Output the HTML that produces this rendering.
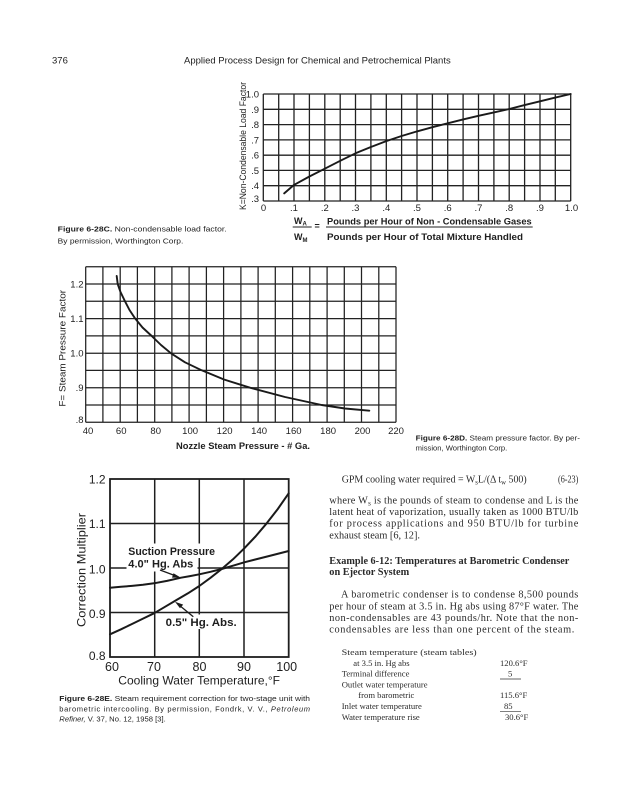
<!DOCTYPE html>
<html><head><meta charset="utf-8"><style>
html,body{margin:0;padding:0;background:#fff;}
svg{display:block;}
.s{font-family:"Liberation Sans",sans-serif;fill:#1e1e1e;}
.r{font-family:"Liberation Serif",serif;fill:#2a2a2a;}
</style></head><body>
<svg width="621" height="800" viewBox="0 0 621 800" xmlns="http://www.w3.org/2000/svg">
<rect width="621" height="800" fill="#fff"/>
<!-- header -->
<text class="s" x="52" y="63.5" font-size="9.5">376</text>
<text class="s" x="184" y="63.5" font-size="9.5" textLength="266.7" lengthAdjust="spacingAndGlyphs">Applied Process Design for Chemical and Petrochemical Plants</text>

<!-- ===== Figure 6-28C ===== -->
<g stroke="#222" stroke-width="1.3" fill="none">
<path d="M263.3 94V201M278.7 94V201M294 94V201M309.4 94V201M324.8 94V201M340.2 94V201M355.5 94V201M370.9 94V201M386.3 94V201M401.6 94V201M417 94V201M432.4 94V201M447.7 94V201M463.1 94V201M478.5 94V201M493.9 94V201M509.2 94V201M524.6 94V201M540 94V201M555.3 94V201M570.7 94V201"/>
<path d="M263.3 94H570.7M263.3 109.3H570.7M263.3 124.6H570.7M263.3 139.9H570.7M263.3 155.2H570.7M263.3 170.4H570.7M263.3 185.7H570.7M263.3 201H570.7"/>
</g>
<polyline fill="none" stroke="#1a1a1a" stroke-width="1.9" stroke-linejoin="round" stroke-linecap="round" points="284.2,193.4 294,184.9 309.4,176.5 324.8,168.7 340.2,160.8 355.5,153.3 370.9,147 386.3,141.1 401.6,136 417,131.4 432.4,127.2 447.7,123.3 463.1,119.4 478.5,115.8 493.9,112.4 509.2,109 524.6,105.1 540,101.3 555.3,97.6 570.7,94"/>
<g class="s" font-size="9.5" text-anchor="end">
<text x="259" y="97.5">1.0</text><text x="259" y="112.8">.9</text><text x="259" y="128.1">.8</text><text x="259" y="143.4">.7</text><text x="259" y="158.7">.6</text><text x="259" y="173.9">.5</text><text x="259" y="189.2">.4</text><text x="259" y="202">.3</text>
</g>
<g class="s" font-size="9.5" text-anchor="middle">
<text x="263.5" y="211">0</text><text x="294" y="211">.1</text><text x="324.8" y="211">.2</text><text x="355.5" y="211">.3</text><text x="386.3" y="211">.4</text><text x="417" y="211">.5</text><text x="447.7" y="211">.6</text><text x="478.5" y="211">.7</text><text x="509.2" y="211">.8</text><text x="540" y="211">.9</text><text x="571.5" y="211">1.0</text>
</g>
<text class="s" font-size="9" transform="translate(245.8,146) rotate(-90)" text-anchor="middle" textLength="128" lengthAdjust="spacingAndGlyphs">K=Non-Condensable Load Factor</text>
<!-- fraction -->
<text class="s" font-size="9" font-weight="bold" x="294" y="224">W</text>
<text class="s" font-size="6" font-weight="bold" x="302.5" y="225.5">A</text>
<line x1="292.7" y1="227" x2="311.7" y2="227" stroke="#222" stroke-width="1"/>
<text class="s" font-size="9" font-weight="bold" x="294" y="240">W</text>
<text class="s" font-size="6" font-weight="bold" x="302.5" y="242">M</text>
<text class="s" font-size="9" font-weight="bold" x="314.5" y="229">=</text>
<line x1="326" y1="227" x2="532.7" y2="227" stroke="#222" stroke-width="1"/>
<text class="s" font-size="8.8" font-weight="bold" x="327" y="224.5" textLength="204.7" lengthAdjust="spacingAndGlyphs">Pounds per Hour of Non - Condensable Gases</text>
<text class="s" font-size="8.8" font-weight="bold" x="327" y="240" textLength="196" lengthAdjust="spacingAndGlyphs">Pounds per Hour of Total Mixture Handled</text>
<!-- caption C -->
<text class="s" font-size="7.5" x="57.7" y="231.7" textLength="169" lengthAdjust="spacingAndGlyphs"><tspan font-weight="bold">Figure 6-28C.</tspan> Non-condensable load factor.</text>
<text class="s" font-size="7.5" x="57.7" y="243.3" textLength="125.6" lengthAdjust="spacingAndGlyphs">By permission, Worthington Corp.</text>

<!-- ===== Figure 6-28D ===== -->
<g stroke="#222" stroke-width="1.25" fill="none">
<path d="M85.7 266.7V422.3M102.9 266.7V422.3M120.2 266.7V422.3M137.4 266.7V422.3M154.7 266.7V422.3M171.9 266.7V422.3M189.1 266.7V422.3M206.4 266.7V422.3M223.6 266.7V422.3M240.9 266.7V422.3M258.1 266.7V422.3M275.3 266.7V422.3M292.6 266.7V422.3M309.8 266.7V422.3M327.1 266.7V422.3M344.3 266.7V422.3M361.5 266.7V422.3M378.8 266.7V422.3M396 266.7V422.3"/>
<path d="M85.7 266.7H396M85.7 284H396M85.7 301.3H396M85.7 318.6H396M85.7 335.9H396M85.7 353.2H396M85.7 370.4H396M85.7 387.7H396M85.7 405H396M85.7 422.3H396"/>
</g>
<polyline fill="none" stroke="#1a1a1a" stroke-width="1.9" stroke-linejoin="round" stroke-linecap="round" points="116.7,276 117.7,284 120.5,292 125,301.3 129.5,310 135,318.3 142.5,327.5 151.7,336 161,345 171,353.3 185,362.3 201.7,370.3 224,379.5 250,387.7 285,397 321.7,405 345,408.5 369.3,410.7"/>
<g class="s" font-size="9.5" text-anchor="end">
<text x="83.5" y="287.5">1.2</text><text x="83.5" y="321.8">1.1</text><text x="83.5" y="356.7">1.0</text><text x="83.5" y="391.2">.9</text><text x="83.5" y="423">.8</text>
</g>
<g class="s" font-size="9.5" text-anchor="middle">
<text x="88" y="434.2">40</text><text x="121.2" y="434.2">60</text><text x="155.7" y="434.2">80</text><text x="190.1" y="434.2">100</text><text x="224.6" y="434.2">120</text><text x="259.1" y="434.2">140</text><text x="293.6" y="434.2">160</text><text x="328.1" y="434.2">180</text><text x="362.5" y="434.2">200</text><text x="396" y="434.2">220</text>
</g>
<text class="s" font-size="9" font-weight="bold" x="176" y="448.8" textLength="134" lengthAdjust="spacingAndGlyphs">Nozzle Steam Pressure - # Ga.</text>
<text class="s" font-size="9.5" transform="translate(65.5,348.3) rotate(-90)" text-anchor="middle" textLength="116.7" lengthAdjust="spacingAndGlyphs">F= Steam Pressure Factor</text>
<!-- caption D -->
<text class="s" font-size="7.5" x="415.7" y="440.4" textLength="164.3" lengthAdjust="spacingAndGlyphs"><tspan font-weight="bold">Figure 6-28D.</tspan> Steam pressure factor. By per-</text>
<text class="s" font-size="7.5" x="415.7" y="450.4" textLength="91.6" lengthAdjust="spacingAndGlyphs">mission, Worthington Corp.</text>

<!-- ===== Figure 6-28E ===== -->
<g stroke="#1e1e1e" stroke-width="1.5" fill="none">
<path d="M154.7 479V657M199.3 479V657M244 479V657"/>
<path d="M110 523.5H288.7M110 568H288.7M110 612.5H288.7"/>
<rect x="110" y="479" width="178.7" height="178" stroke-width="1.8"/>
</g>
<!-- label masks -->
<rect x="126" y="543.5" width="91" height="14.5" fill="#fff"/>
<rect x="126.5" y="558" width="71" height="13.5" fill="#fff"/>
<rect x="163" y="614.5" width="77" height="14.5" fill="#fff"/>
<g fill="none" stroke="#1a1a1a" stroke-width="2" stroke-linejoin="round" stroke-linecap="round">
<polyline points="110,634.3 121,629.3 132,624 143,618.6 154,613.3 165,606.8 176.5,600 188,593.3 199.3,586 210.5,577.8 221.7,569 233,559.3 244.3,548.3 255.5,536.5 266.7,523.3 277.8,509 288.7,493.3"/>
<polyline points="110,587.7 121,586.8 132,585.9 143,584.8 154,583.3 167,580.9 181,577.7 190,576.1 199.3,574.3 210.5,571.8 221.7,569 233,565.7 244.3,562.3 266.7,556.6 288.7,551"/>
</g>
<!-- arrows -->
<g stroke="#1a1a1a" stroke-width="1.3" fill="#1a1a1a">
<line x1="160" y1="570" x2="176" y2="576"/>
<polygon points="181,577.8 173.5,573.2 172,577.6" stroke="none"/>
<line x1="193.3" y1="616.7" x2="179" y2="605"/>
<polygon points="175,601.7 183.2,604.6 180,608.2" stroke="none"/>
</g>
<g class="s" font-size="11" font-weight="bold">
<text x="128.3" y="555" textLength="86.7" lengthAdjust="spacingAndGlyphs">Suction Pressure</text>
<text x="128.3" y="567.5" textLength="65" lengthAdjust="spacingAndGlyphs">4.0" Hg. Abs</text>
<text x="165.7" y="626" textLength="71" lengthAdjust="spacingAndGlyphs">0.5" Hg. Abs.</text>
</g>
<g class="s" font-size="12" text-anchor="end">
<text x="105.5" y="483.3">1.2</text><text x="105.5" y="528">1.1</text><text x="105.5" y="573.5">1.0</text><text x="105.5" y="617.8">0.9</text><text x="105.5" y="660">0.8</text>
</g>
<g class="s" font-size="12.5" text-anchor="middle">
<text x="112" y="671">60</text><text x="154" y="671">70</text><text x="199.5" y="671">80</text><text x="244" y="671">90</text><text x="286.7" y="671">100</text>
</g>
<text class="s" font-size="12" x="118.3" y="684.5" textLength="161.7" lengthAdjust="spacingAndGlyphs">Cooling Water Temperature,°F</text>
<text class="s" font-size="12" transform="translate(85.5,570) rotate(-90)" text-anchor="middle" textLength="114" lengthAdjust="spacingAndGlyphs">Correction Multiplier</text>
<!-- caption E -->
<text class="s" font-size="7.5" x="59.3" y="701" textLength="250.7" lengthAdjust="spacingAndGlyphs"><tspan font-weight="bold">Figure 6-28E.</tspan> Steam requirement correction for two-stage unit with</text>
<text class="s" font-size="7.5" x="59.3" y="711.4" textLength="250.7" lengthAdjust="spacing">barometric intercooling. By permission, Fondrk, V. V., <tspan font-style="italic">Petroleum</tspan></text>
<text class="s" font-size="7.5" x="59.3" y="721.4" textLength="106.4" lengthAdjust="spacingAndGlyphs"><tspan font-style="italic">Refiner,</tspan> V. 37, No. 12, 1958 [3].</text>

<!-- ===== right column text ===== -->
<g class="r" font-size="10.3">
<text x="341.7" y="482.3" textLength="185" lengthAdjust="spacingAndGlyphs">GPM cooling water required = W<tspan font-size="7" dy="2">s</tspan><tspan dy="-2">L/(Δ t</tspan><tspan font-size="7" dy="2">w</tspan><tspan dy="-2"> 500)</tspan></text>
<text x="558" y="482.3" textLength="20.3" lengthAdjust="spacingAndGlyphs">(6-23)</text>
<text x="329.3" y="503.3" textLength="249" lengthAdjust="spacing">where W<tspan font-size="7" dy="2">s</tspan><tspan dy="-2"> is the pounds of steam to condense and L is the</tspan></text>
<text x="329.3" y="515" textLength="249" lengthAdjust="spacing">latent heat of vaporization, usually taken as 1000 BTU/lb</text>
<text x="329.3" y="526.7" textLength="249" lengthAdjust="spacing">for process applications and 950 BTU/lb for turbine</text>
<text x="329.3" y="538.3">exhaust steam [6, 12].</text>
<text x="329.3" y="564" font-weight="bold" textLength="240" lengthAdjust="spacingAndGlyphs">Example 6-12: Temperatures at Barometric Condenser</text>
<text x="329.3" y="575" font-weight="bold">on Ejector System</text>
<text x="341" y="597.5" textLength="237.3" lengthAdjust="spacing">A barometric condenser is to condense 8,500 pounds</text>
<text x="329.3" y="609.3" textLength="249" lengthAdjust="spacing">per hour of steam at 3.5 in. Hg abs using 87°F water. The</text>
<text x="329.3" y="620.8" textLength="249" lengthAdjust="spacing">non-condensables are 43 pounds/hr. Note that the non-</text>
<text x="329.3" y="632.3" textLength="245" lengthAdjust="spacing">condensables are less than one percent of the steam.</text>
</g>
<g class="r" font-size="8.6">
<text x="341.7" y="655.2" textLength="135" lengthAdjust="spacingAndGlyphs">Steam temperature (steam tables)</text>
<text x="353.3" y="665.8">at 3.5 in. Hg abs</text>
<text x="500" y="665.8">120.6°F</text>
<text x="341.7" y="676.5">Terminal difference</text>
<text x="508" y="676.5">5</text>
<text x="341.7" y="687.5">Outlet water temperature</text>
<text x="358.3" y="698.2">from barometric</text>
<text x="500" y="698.2">115.6°F</text>
<text x="341.7" y="709.2">Inlet water temperature</text>
<text x="504" y="709.2">85</text>
<text x="341.7" y="720.2">Water temperature rise</text>
<text x="505" y="720.2">30.6°F</text>
</g>
<g stroke="#333" stroke-width="0.7">
<line x1="500" y1="679" x2="521" y2="679"/>
<line x1="500" y1="711.7" x2="521" y2="711.7"/>
</g>
</svg>
</body></html>
